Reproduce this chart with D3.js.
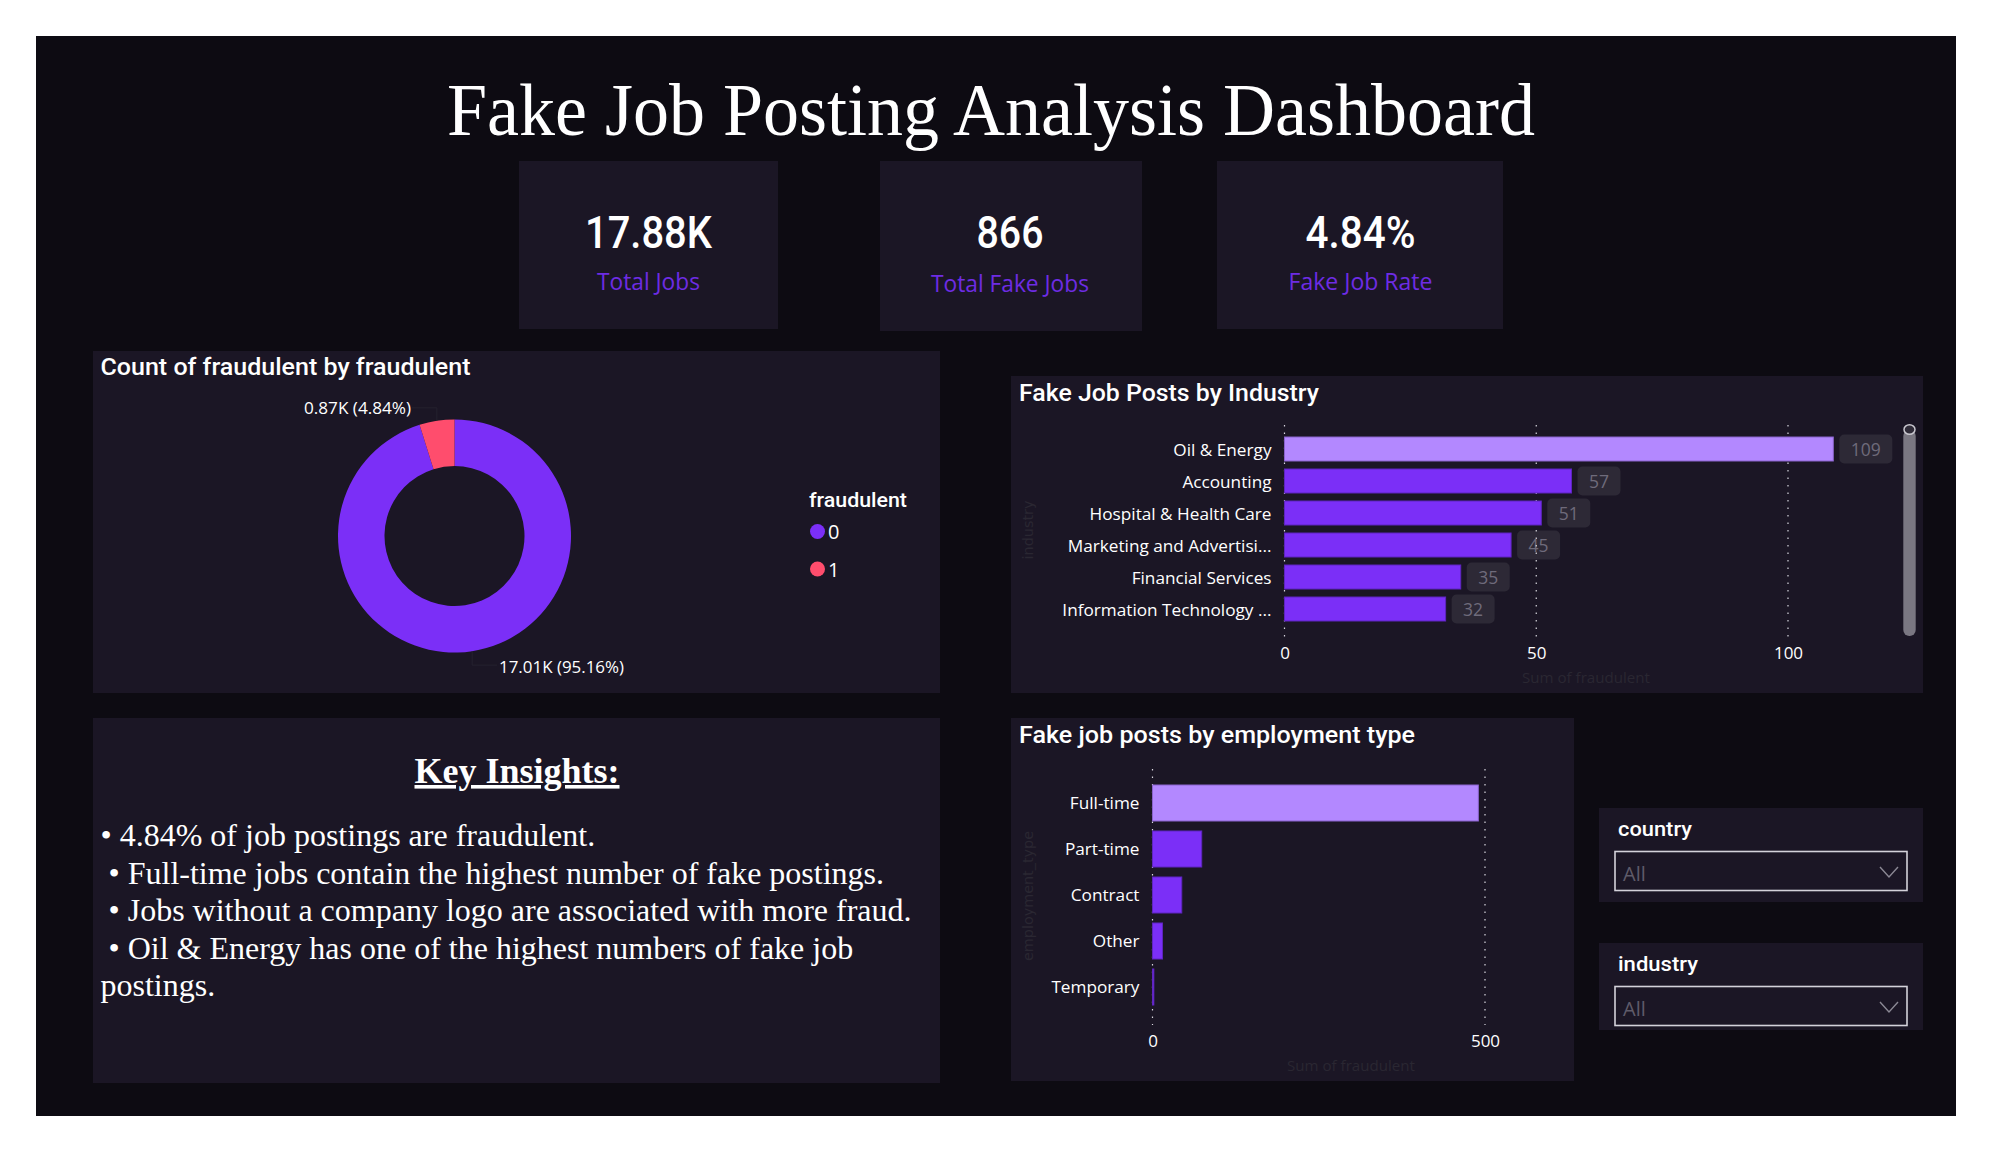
<!DOCTYPE html>
<html>
<head>
<meta charset="utf-8">
<title>Fake Job Posting Analysis Dashboard</title>
<script src="https://cdn.jsdelivr.net/npm/d3@7"></script>
<style>
  html, body { margin: 0; padding: 0; background: #fff; }
  svg { display: block; }
  .din { font-family: Roboto, sans-serif; font-weight: 500; }
  .ui { font-family: "Open Sans", sans-serif; }
  .serif { font-family: "Liberation Serif", serif; }
  .wide { font-family: "DejaVu Sans", sans-serif; }
  .domain { display: none; }
</style>
</head>
<body>
<svg id="dash" width="1992" height="1152"></svg>
<script>
const donutKeys = ["0", "1"];
const donutValues = [17010, 866];
const donutLabels = ["17.01K (95.16%)", "0.87K (4.84%)"];

const industries = ["Oil & Energy", "Accounting", "Hospital & Health Care", "Marketing and Advertisi...", "Financial Services", "Information Technology ..."];
const industryValues = [109, 57, 51, 45, 35, 32];
const industryTicks = [0, 50, 100];

const empTypes = ["Full-time", "Part-time", "Contract", "Other", "Temporary"];
const empValues = [490, 74, 44, 15, 2];
const empTicks = [0, 500];

const kpiValues = ["17.88K", "866", "4.84%"];
const kpiLabels = ["Total Jobs", "Total Fake Jobs", "Fake Job Rate"];

const insights = [
  "• 4.84% of job postings are fraudulent.",
  " • Full-time jobs contain the highest number of fake postings.",
  " • Jobs without a company logo are associated with more fraud.",
  " • Oil & Energy has one of the highest numbers of fake job",
  "postings."
];

const BG = "#0d0b12", PANEL = "#1b1625", PURPLE = "#7b2ff7", LIGHT = "#b388ff", PINK = "#ff4d6d";
const FAINT = "#2a2732";

const svg = d3.select("#dash");

function panel(x, y, w, h, fill) {
  svg.append("rect").attr("x", x).attr("y", y).attr("width", w).attr("height", h).attr("fill", fill || PANEL);
}

// text helper, width squeezes the substitute font to the width of the original one
function label(x, y, str, cls, size, fill, anchor, width) {
  const t = svg.append("text")
    .attr("class", cls)
    .attr("x", x).attr("y", y)
    .attr("font-size", size)
    .attr("fill", fill)
    .attr("text-anchor", anchor || "start")
    .attr("xml:space", "preserve")
    .style("white-space", "pre")
    .text(str);
  if (width) t.attr("textLength", width).attr("lengthAdjust", "spacingAndGlyphs");
  return t;
}

panel(36, 36, 1920, 1080, BG);

label(991, 135, "Fake Job Posting Analysis Dashboard", "serif", 73, "#fff", "middle", 1088);

// kpi cards
const kpiBoxes = [[519, 161, 259, 168], [880, 161, 262, 170], [1217, 161, 286, 168]];
const kpiCx = [648.5, 1010, 1360.5];
const kpiWidths = [127, 67, 110];
const kpiLabelWidths = [103, 158, 144];
const kpiLabelY = [290, 292, 290];
kpiBoxes.forEach((b, i) => {
  panel(b[0], b[1], b[2], b[3]);
  label(kpiCx[i], 248, kpiValues[i], "din", 44, "#fff", "middle", kpiWidths[i]);
  label(kpiCx[i], kpiLabelY[i], kpiLabels[i], "ui", 23, "#6e2ce4", "middle", kpiLabelWidths[i]).attr("font-weight", 400);
});

// donut
panel(93, 351, 847, 342);
label(100.5, 375, "Count of fraudulent by fraudulent", "din", 23, "#fff", "start", 370);

const donutG = svg.append("g").attr("transform", "translate(454.5,536)");
const pie = d3.pie().sort(null).value(d => d);
const arc = d3.arc().innerRadius(70).outerRadius(116.5);
const edgeArc = d3.arc().innerRadius(116.5).outerRadius(116.5);
const color = d3.scaleOrdinal().domain(donutKeys).range([PURPLE, PINK]);
const slices = pie(donutValues);

donutG.selectAll("path.slice").data(slices).join("path")
  .attr("class", "slice")
  .attr("d", arc)
  .attr("fill", (d, i) => color(donutKeys[i]));

// leader lines come out of the middle of each slice
donutG.selectAll("path.leader").data(slices).join("path")
  .attr("class", "leader")
  .attr("fill", "none")
  .attr("stroke", "#25222f")
  .attr("d", (d, i) => {
    const c = edgeArc.centroid(d);
    const dir = i === 0 ? 1 : -1;
    const y2 = c[1] + (i === 0 ? 14 : -13);
    return `M${c[0]},${c[1]}L${c[0]},${y2}L${c[0] + dir * 25},${y2}`;
  });

label(499, 673, donutLabels[0], "ui", 16, "#fff", "start", 125);
label(304, 414, donutLabels[1], "ui", 16, "#fff", "start", 107);

label(809, 507, "fraudulent", "din", 20, "#fff", "start", 98).attr("font-weight", 700);
const legendY = d3.scalePoint().domain(donutKeys).range([531.5, 569]);
donutKeys.forEach(k => {
  svg.append("circle").attr("cx", 817.5).attr("cy", legendY(k)).attr("r", 7.5).attr("fill", color(k));
  label(828, legendY(k) + 7.5, k, "ui", 20, "#fff");
});

// horizontal bar chart used for both industry and employment type
function barChart(o) {
  const x = d3.scaleLinear().domain([0, o.ticks[o.ticks.length - 1]]).range([o.x0, o.x1]);
  const y = d3.scaleBand().domain(o.cats).range(o.yRange).paddingInner(o.pad).paddingOuter(o.pad / 2);
  const g = svg.append("g");
  const under = g.append("g"); // value chips go here, the grid dots sit on top of them

  g.append("g").selectAll("line").data(o.ticks).join("line")
    .attr("x1", d => x(d)).attr("x2", d => x(d))
    .attr("y1", o.gridTop).attr("y2", o.gridBottom)
    .attr("stroke", "#d8d6de").attr("stroke-width", 1.2)
    .attr("stroke-dasharray", "1.5,6");

  g.append("g").selectAll("rect").data(o.vals).join("rect")
    .attr("x", x(0))
    .attr("y", (d, i) => y(o.cats[i]))
    .attr("width", d => x(d) - x(0))
    .attr("height", y.bandwidth())
    .attr("fill", (d, i) => i === 0 ? LIGHT : PURPLE)
    .attr("stroke", (d, i) => i === 0 ? "#8a63cc" : "#5f25c0")
    .attr("stroke-width", 1);

  const axisY = g.append("g").attr("transform", `translate(${o.x0},0)`)
    .call(d3.axisLeft(y).tickSize(0).tickPadding(13));
  axisY.selectAll("text").attr("class", "ui").attr("font-size", 17.2).attr("fill", "#fff").attr("dy", o.labelDy);

  const axisX = g.append("g").attr("transform", `translate(0,${o.axisY})`)
    .call(d3.axisBottom(x).tickValues(o.ticks).tickSize(0).tickPadding(0));
  axisX.selectAll("text").attr("class", "ui").attr("font-size", 17).attr("fill", "#fff").attr("dy", 0).attr("y", 0);

  return { x, y, under };
}

// industry panel
panel(1011, 376, 912, 317);
label(1019, 401, "Fake Job Posts by Industry", "din", 23, "#fff", "start", 300);
const ind = barChart({
  cats: industries, vals: industryValues, ticks: industryTicks,
  x0: 1284.5, x1: 1788, yRange: [433, 625], pad: 0.25,
  gridTop: 425, gridBottom: 637, axisY: 659, labelDy: "0.42em"
});

// value chips next to the bars
const chips = ind.under.selectAll("g").data(industryValues).join("g")
  .attr("transform", (d, i) => `translate(${ind.x(d) + 6},${ind.y(industries[i]) + ind.y.bandwidth() / 2})`);
chips.append("rect")
  .attr("y", -14.5).attr("height", 29).attr("rx", 5)
  .attr("width", d => d >= 100 ? 53 : 43)
  .attr("fill", "#2d2936");
chips.append("text")
  .attr("class", "ui").attr("font-size", 17.5).attr("fill", "#6f6b7b")
  .attr("text-anchor", "middle")
  .attr("x", d => d >= 100 ? 26.5 : 21.5).attr("y", 6.5)
  .text(d => d);

label(1586, 683, "Sum of fraudulent", "ui", 15, FAINT, "middle", 128);
label(0, 0, "industry", "wide", 14, FAINT, "middle", 59).attr("transform", "translate(1033,530) rotate(-90)");

// scrollbar
svg.append("rect").attr("x", 1903.3).attr("y", 430).attr("width", 12.4).attr("height", 206).attr("rx", 6).attr("fill", "#7a7782");
svg.append("ellipse").attr("cx", 1909.5).attr("cy", 429.5).attr("rx", 5.5).attr("ry", 4.8)
  .attr("fill", "#2f2b38").attr("stroke", "#c9c7cf").attr("stroke-width", 1.5);

// employment panel
panel(1011, 718, 563, 363);
label(1019, 743, "Fake job posts by employment type", "din", 23, "#fff", "start", 396);
barChart({
  cats: empTypes, vals: empValues, ticks: empTicks,
  x0: 1152.5, x1: 1485, yRange: [780, 1010], pad: 0.217,
  gridTop: 769, gridBottom: 1025, axisY: 1047, labelDy: "0.32em"
});
label(1351, 1071, "Sum of fraudulent", "ui", 15, FAINT, "middle", 128);
label(0, 0, "employment_type", "wide", 14, FAINT, "middle", 130).attr("transform", "translate(1033,896) rotate(-90)");

// slicers
const slicerNames = ["country", "industry"];
const slicerTops = [808, 943];
const slicerHeights = [94, 87];
const slicerWidths = [74, 80];
slicerNames.forEach((n, i) => {
  const top = slicerTops[i];
  panel(1599, top, 324, slicerHeights[i]);
  label(1618, top + 28, n, "din", 21, "#fff", "start", slicerWidths[i]);
  svg.append("rect").attr("x", 1615).attr("y", top + 43.5).attr("width", 292).attr("height", 39)
    .attr("fill", "none").attr("stroke", "#d4d2da").attr("stroke-width", 1.6);
  label(1623, top + 73, "All", "ui", 20, "#5f5b69");
  svg.append("path").attr("d", `M1880,${top + 59}L1889,${top + 69}L1898,${top + 59}`)
    .attr("fill", "none").attr("stroke", "#8b8894").attr("stroke-width", 1.4);
});

// key insights
panel(93, 718, 847, 365);
label(517, 783, "Key Insights:", "serif", 36, "#fff", "middle", 205)
  .attr("font-weight", 700).attr("text-decoration", "underline");
const lineY = d3.scalePoint().domain(d3.range(insights.length)).range([846, 996]);
insights.forEach((line, i) => label(100.5, lineY(i), line, "serif", 32, "#fff"));
</script>
</body>
</html>
